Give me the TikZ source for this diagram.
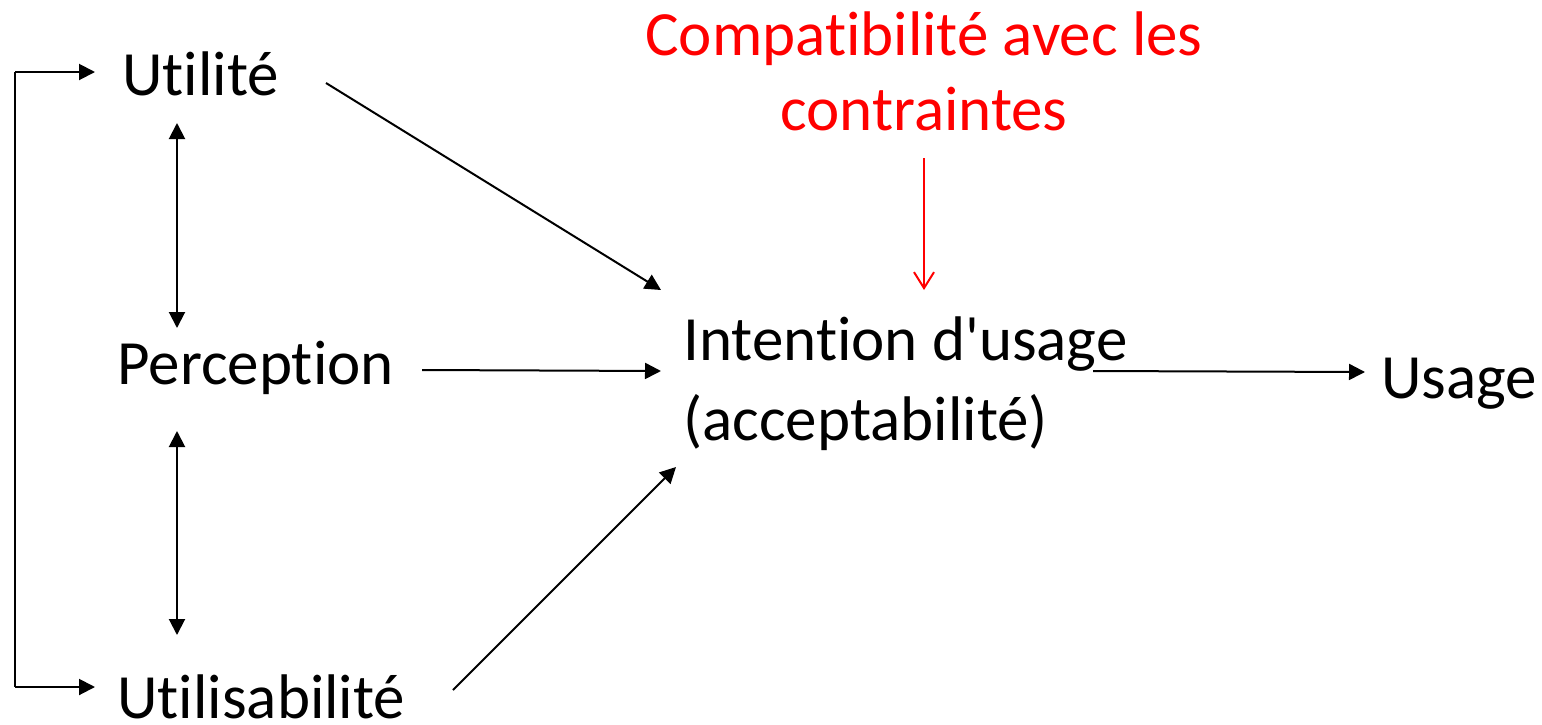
\documentclass[tikz,border=0pt]{standalone}
\usepackage{fontspec}
\newfontfamily\calibrifont{Carlito}[Ligatures=NoCommon]
\usetikzlibrary{arrows.meta}
\definecolor{contraintered}{RGB}{255,0,0}

\tikzset{
  label/.style={font=\calibrifont\fontsize{31.5}{40}\selectfont, inner sep=0pt, anchor=base west},
  arr/.style={line width=1pt, -{Triangle[length=8pt,width=8pt]}},
  dblarr/.style={line width=1pt, {Triangle[length=8pt,width=8pt]}-{Triangle[length=8pt,width=8pt]}},
  redarr/.style={contraintered, line width=1pt, -{Straight Barb[length=8pt,width=10pt]}}
}

\begin{document}
\begin{tikzpicture}[x=0.5pt, y=-0.5pt]
    \useasboundingbox (0,0) rectangle (1542,724);

    % Perception factors
    \node[label] (utilite) at (122,95) {Utilité};
    \node[label] (perception) at (117,384) {Perception};
    \node[label] (utilisab) at (117,718) {Utilisabilité};

    % Intention and usage (base = last line)
    \node[label, align=left] (intention) at (683,440) {Intention d'usage\\(acceptabilité)};
    \node[label] (usage) at (1381,398) {Usage};

    % Constraints (red)
    \node[label, anchor=base, align=center, text=contraintered,
          font=\calibrifont\fontsize{31.5}{37.5}\selectfont] (contraintes) at (924,130) {Compatibilité avec les\\contraintes};

    % Connector end points
    \coordinate (bracketTop) at (15,72);
    \coordinate (bracketBot) at (15,687);
    \coordinate (utilIn) at (95,72);
    \coordinate (utilisIn) at (95,687);
    \coordinate (utilDown) at (177,123);
    \coordinate (percUp) at (177,328);
    \coordinate (percDown) at (177,431);
    \coordinate (utilisUp) at (177,635);
    \coordinate (utilOut) at (326,83);
    \coordinate (intA) at (661,290);
    \coordinate (percOut) at (422,370);
    \coordinate (intB) at (661,371);
    \coordinate (utilisOut) at (453,690);
    \coordinate (intC) at (676,467);
    \coordinate (intOut) at (1093,371);
    \coordinate (usageIn) at (1365,372);
    \coordinate (redTop) at (924,158);
    \coordinate (redBot) at (924,290);

    % Left bracket
    \draw[arr] (bracketTop) -- (utilIn);
    \draw[line width=1pt] (bracketTop) -- (bracketBot);
    \draw[arr] (bracketBot) -- (utilisIn);

    % Double arrows between factors
    \draw[dblarr] (utilDown) -- (percUp);
    \draw[dblarr] (percDown) -- (utilisUp);

    % Arrows to intention
    \draw[arr] (utilOut) -- (intA);
    \draw[arr] (percOut) -- (intB);
    \draw[arr] (utilisOut) -- (intC);
    \draw[arr] (intOut) -- (usageIn);
    \draw[redarr] (redTop) -- (redBot);
\end{tikzpicture}
\end{document}
